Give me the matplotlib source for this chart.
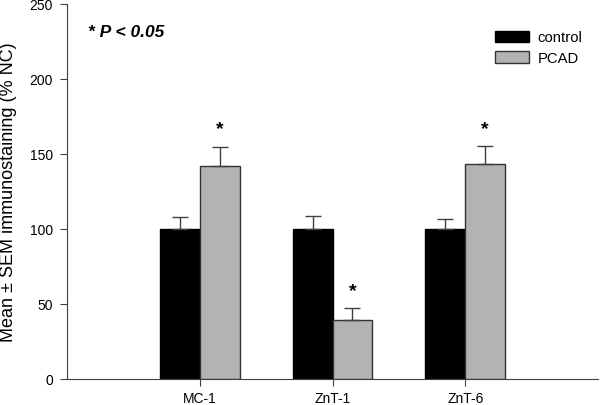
import numpy as np
import matplotlib.pyplot as plt

plt.rcParams['font.family'] = ['Liberation Sans', 'DejaVu Sans']

# data
groups = ['MC-1', 'ZnT-1', 'ZnT-6']
control = [100, 100, 100]
control_sem = [8.2, 8.5, 6.5]
pcad = [142.2, 39.5, 143.5]
pcad_sem = [12.8, 7.8, 12.0]
significant = [True, True, True]

x = np.arange(1, len(groups) + 1)
w = 0.3

fig = plt.figure(figsize=(6.01, 4.06), dpi=100)
ax = fig.add_axes([67 / 601, 26 / 406, 531 / 601, 375 / 406])

err_kw = dict(ecolor='#404040', capsize=5.5, elinewidth=1, capthick=1)
ax.bar(x - w / 2, control, w, color='black', edgecolor='black', linewidth=1,
       yerr=[np.zeros(3), control_sem], error_kw=err_kw, label='control')
ax.bar(x + w / 2, pcad, w, color='#b3b3b3', edgecolor='#333333', linewidth=1,
       yerr=[np.zeros(3), pcad_sem], error_kw=err_kw, label='PCAD')

for xi, v, e, s in zip(x, pcad, pcad_sem, significant):
    if s:
        ax.text(xi + w / 2, v + e + 6, '*', ha='center', va='bottom',
                fontsize=14, fontweight='bold')

ax.text(0.04, 0.927, '* P < 0.05', transform=ax.transAxes, fontsize=12.5,
        fontweight='bold', fontstyle='italic', va='center')

ax.set_xlim(0, 4)
ax.set_ylim(0, 250)
ax.set_xticks(x)
ax.set_xticklabels(groups, fontsize=10)
ax.set_yticks(np.arange(0, 251, 50))
ax.tick_params(axis='y', labelsize=10, direction='out', length=5, pad=5,
               color='#404040')
ax.tick_params(axis='x', direction='out', length=5, pad=4, color='#404040')
ax.set_ylabel('Mean \u00b1 SEM immunostaining (% NC)', fontsize=13)
ax.yaxis.set_label_coords(-0.094, 0.5)
ax.spines['top'].set_visible(False)
ax.spines['right'].set_visible(False)
ax.spines['left'].set_color('#404040')
ax.spines['bottom'].set_color('#404040')

ax.legend(loc='upper right', bbox_to_anchor=(0.996, 0.965), frameon=False,
          fontsize=10.7, handlelength=2.3, handleheight=0.8, labelspacing=0.45,
          handletextpad=0.6)

plt.savefig('out.png', dpi=100)
